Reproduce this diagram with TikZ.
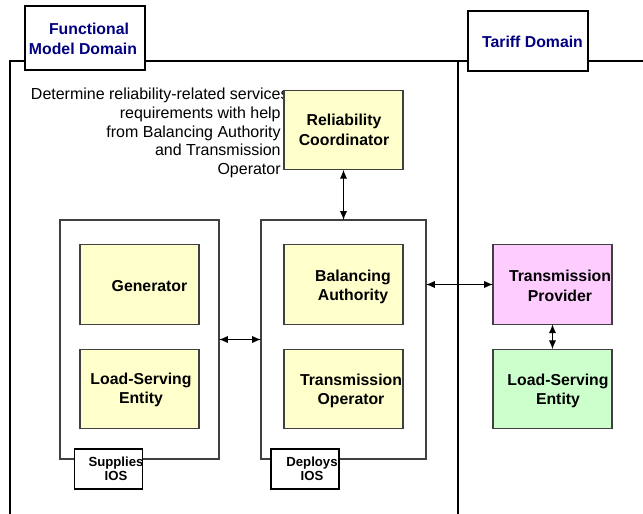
\documentclass[tikz,border=0pt]{standalone}
\usepackage{fontspec}
\setmainfont{Liberation Sans}
\usetikzlibrary{arrows.meta}
\definecolor{roleyellow}{HTML}{FFFFCC}
\definecolor{rolepink}{HTML}{FFCCFF}
\definecolor{rolegreen}{HTML}{CCFFCC}
\definecolor{domainblue}{HTML}{000080}
\definecolor{edgegray}{HTML}{404040}

\begin{document}
\begin{tikzpicture}[x=0.02cm,y=-0.02cm,
  framebox/.style={draw=black,line width=0.7pt,fill=white,inner sep=0pt,outer sep=0pt},
  role/.style={draw=edgegray,line width=0.65pt,inner sep=0pt,outer sep=0pt,
    minimum width=2.38cm,minimum height=1.59cm},
  roletext/.style={font=\fontsize{9}{11.2}\selectfont\bfseries,align=center,inner sep=0pt},
  domainbox/.style={framebox,font=\fontsize{9}{11.4}\selectfont\bfseries,text=domainblue,align=center},
  ios/.style={framebox,minimum width=1.36cm,minimum height=0.8cm},
  iostext/.style={font=\fontsize{7.5}{8.2}\selectfont\bfseries,align=center,inner sep=0pt},
  both/.style={{Latex[length=5pt,width=4pt]}-{Latex[length=5pt,width=4pt]},line width=0.55pt}]
\useasboundingbox (0,0) rectangle (643,514);

\draw[line width=0.7pt] (10,514) -- (10,61) -- (643,61);
\draw[line width=0.7pt] (458,61) -- (458,514);
\node[domainbox,minimum width=2.4cm,minimum height=1.28cm] (fmd) at (85,38) {};
\node[font=\fontsize{9}{11.4}\selectfont\bfseries,text=domainblue,inner sep=0pt] (fmdtop) at (89,29) {Functional};
\node[font=\fontsize{9}{11.4}\selectfont\bfseries,text=domainblue,inner sep=0pt] (fmdbot) at (83,49) {Model Domain};
\node[domainbox,minimum width=2.4cm,minimum height=1.2cm] (tariff) at (528,41) {};
\node[font=\fontsize{9}{11.4}\selectfont\bfseries,text=domainblue,inner sep=0pt] (tarifflbl) at (532.5,42) {Tariff Domain};

\node[anchor=north east,inner sep=0pt,align=right,font=\fontsize{9.1}{10.6}\selectfont] (note) at (281,88)
  {Determine reliability-related service\rlap{s}\\requirements with help\\from Balancing Authority\\and Transmission\\Operator};

\node[framebox,draw=edgegray,line width=0.65pt,minimum width=3.18cm,minimum height=4.78cm] (sup) at (139.5,339.5) {};
\node[framebox,draw=edgegray,line width=0.65pt,minimum width=3.3cm,minimum height=4.78cm] (dep) at (343.5,339.5) {};

\node[role,fill=roleyellow] (rc) at (343.5,130) {};
\node[role,fill=roleyellow] (gen) at (139.5,284.5) {};
\node[role,fill=roleyellow] (lse) at (139.5,389) {};
\node[role,fill=roleyellow] (ba) at (343.5,284.5) {};
\node[role,fill=roleyellow] (to) at (343.5,389) {};
\node[role,fill=rolepink] (tp) at (552.5,284.5) {};
\node[role,fill=rolegreen] (lsetd) at (552.5,389) {};

\node[roletext] (rclbl) at (344,130) {Reliability\\Coordinator};
\node[roletext] (genlbl) at (149.5,286) {Generator};
\node[roletext] (lselbl) at (141,390) {Load-Serving\\Entity};
\node[roletext] (balbl) at (353,287) {Balancing\\Authority};
\node[roletext] (tolbl) at (351,391) {Transmission\\Operator};
\node[roletext] (tplbl) at (560,286) {Transmission\\Provider};
\node[roletext] (lsetdlbl) at (558,391) {Load-Serving\\Entity};

\node[ios] (supios) at (108.5,469) {};
\node[ios] (depios) at (305,469) {};
\node[iostext] (supioslbl) at (116,469) {Supplies\\IOS};
\node[iostext] (depioslbl) at (312,469) {Deploys\\IOS};

\draw[both] (rc) -- (dep);
\draw[both] (sup) -- (dep);
\draw[both] (tp.west -| dep.east) -- (tp.west);
\draw[both] (tp) -- (lsetd);
\end{tikzpicture}
\end{document}
